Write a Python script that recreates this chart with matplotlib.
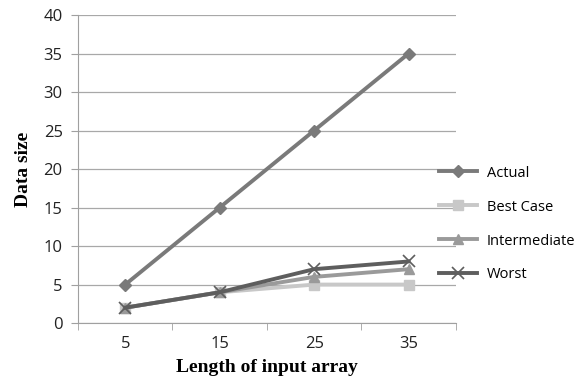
import matplotlib
matplotlib.use('Agg')
import matplotlib.pyplot as plt

categories = ['5', '15', '25', '35']
actual = [5, 15, 25, 35]
best_case = [2, 4, 5, 5]
intermediate = [2, 4, 6, 7]
worst = [2, 4, 7, 8]

fig = plt.figure(figsize=(5.75, 3.86), dpi=100)
ax = fig.add_axes([0.1357, 0.163, 0.657, 0.798])

x = range(len(categories))
ax.plot(x, actual, color='#7a7a7a', lw=2.8, marker='D', ms=6, label='Actual')
ax.plot(x, best_case, color='#c8c8c8', lw=2.8, marker='s', ms=7, label='Best Case')
ax.plot(x, intermediate, color='#9a9a9a', lw=2.8, marker='^', ms=7, label='Intermediate')
ax.plot(x, worst, color='#5e5e5e', lw=2.8, marker='x', ms=9, mew=1.2, label='Worst')

ax.set_xlim(-0.5, 3.5)
ax.set_ylim(0, 40)
ax.set_yticks(range(0, 41, 5))
ax.set_xticks(list(x))
ax.set_xticklabels(categories)
ax.set_xticks([-0.5, 0.5, 1.5, 2.5, 3.5], minor=True)
ax.tick_params(axis='x', which='major', length=0, pad=9)
ax.tick_params(axis='x', which='minor', length=5, color='#a0a0a0', direction='out')
ax.tick_params(axis='y', length=5, color='#a0a0a0', pad=6)
ax.tick_params(labelsize=12, labelcolor='#222222')
for lab in ax.get_xticklabels() + ax.get_yticklabels():
    lab.set_family('Open Sans')

ax.grid(axis='y', color='#a8a8a8', lw=0.9)
ax.set_axisbelow(True)
for s in ['top', 'right']:
    ax.spines[s].set_visible(False)
ax.spines['left'].set_color('#a0a0a0')
ax.spines['bottom'].set_color('#a0a0a0')

ax.set_xlabel('Length of input array', family='Liberation Serif', weight='bold', fontsize=14, labelpad=5)
ax.set_ylabel('Data size', family='Liberation Serif', weight='bold', fontsize=14, labelpad=8)

fig.legend(loc='upper left', bbox_to_anchor=(0.74, 0.605), frameon=False,
           prop={'family': 'Open Sans', 'size': 10.5}, handlelength=2.6,
           labelspacing=1.3, handletextpad=0.7)

fig.savefig('out.png', dpi=100)
